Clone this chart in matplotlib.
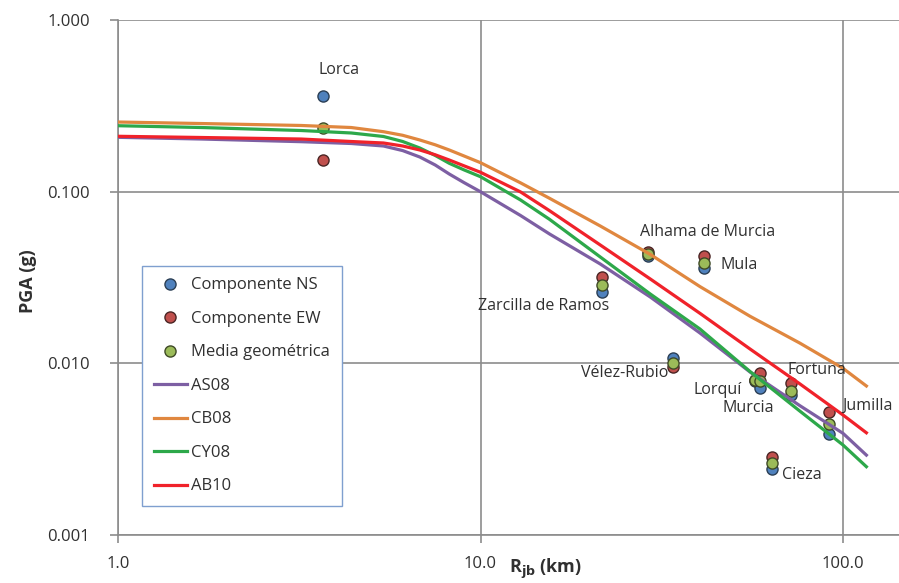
import numpy as np
import matplotlib
matplotlib.use('Agg')
import matplotlib.pyplot as plt
from matplotlib.ticker import FixedLocator, NullLocator, FixedFormatter

plt.rcParams['font.family'] = ['Open Sans', 'DejaVu Sans']

# station records
stations = ['Lorca', 'Zarcilla de Ramos', 'Alhama de Murcia', 'Mula', 'Vélez-Rubio',
            'Lorquí', 'Murcia', 'Fortuna', 'Jumilla', 'Cieza']
r_jb = [3.68, 21.6, 28.9, 41.4, 33.9, 57.2, 59.0, 71.9, 91.7, 63.5]
pga_ns = [0.361, 0.0259, 0.0424, 0.0361, 0.0108, 0.0079, 0.00716, 0.00654, 0.00386, 0.00241]
pga_ew = [0.153, 0.0317, 0.0444, 0.0422, 0.0095, 0.0080, 0.00875, 0.00765, 0.00519, 0.00286]
pga_gm = [0.235, 0.0286, 0.0434, 0.0386, 0.0100, 0.0080, 0.00789, 0.00693, 0.00443, 0.00264]

# GMPE curves
r_model = [1.0, 1.7, 3.2, 4.4, 5.4, 6.1, 6.8, 7.5, 8.2, 9.0, 10.0, 12.9, 15.5, 21.4, 29.4,
           40.3, 55.4, 76.1, 100.0, 116.0]
as08 = [0.2073, 0.2026, 0.1955, 0.1908, 0.1845, 0.1735, 0.1592, 0.1430, 0.1267, 0.1130, 0.0999,
        0.0726, 0.0567, 0.0379, 0.02434, 0.01502, 0.0089, 0.00566, 0.00391, 0.00292]
cb08 = [0.2545, 0.2494, 0.243, 0.2364, 0.2235, 0.2130, 0.2000, 0.1875, 0.1749, 0.1615, 0.1475,
        0.1125, 0.0915, 0.0631, 0.0431, 0.0280, 0.0188, 0.0131, 0.00935, 0.00738]
cy08 = [0.2422, 0.2364, 0.2271, 0.2197, 0.2096, 0.1960, 0.1796, 0.1625, 0.1463, 0.1340, 0.1222,
        0.0894, 0.0690, 0.04163, 0.02534, 0.01585, 0.00896, 0.00526, 0.003344, 0.0025]
ab10 = [0.2102, 0.2068, 0.2026, 0.1960, 0.1921, 0.1845, 0.1749, 0.1640, 0.1529, 0.1415, 0.1297,
        0.0996, 0.0775, 0.0489, 0.0310, 0.01956, 0.01212, 0.00758, 0.0050, 0.00394]

# label offsets in pixels relative to the mean point
label_off = {'Lorca': (16, 58), 'Zarcilla de Ramos': (-58, -21), 'Alhama de Murcia': (60, 22),
             'Mula': (35, -2), 'Vélez-Rubio': (-48, -10), 'Lorquí': (-37, -10),
             'Murcia': (-12, -27), 'Fortuna': (26, 21), 'Jumilla': (38, 18), 'Cieza': (30, -12)}

fig = plt.figure(figsize=(8.99, 5.83), dpi=100)
ax = fig.add_axes([118/899, 48/583, 781/899, 515/583])
ax.set_xscale('log')
ax.set_yscale('log')
ax.set_xlim(1, 142.7)
ax.set_ylim(0.001, 1.0)

txt = '#303030'
grid = '#8c8c8c'

ms = 8
ax.plot(r_jb, pga_ns, 'o', ms=ms, mfc='#4F81BD', mec='#2b3f55', mew=1, label='Componente NS', zorder=3)
ax.plot(r_jb, pga_ew, 'o', ms=ms, mfc='#C0504D', mec='#4a2524', mew=1, label='Componente EW', zorder=3)
ax.plot(r_jb, pga_gm, 'o', ms=ms, mfc='#9BBB59', mec='#3f4a27', mew=1, label='Media geométrica', zorder=3)

lw = 2.3
ax.plot(r_model, as08, color='#7D5FA3', lw=lw, label='AS08', zorder=4)
ax.plot(r_model, cb08, color='#E0873F', lw=lw, label='CB08', zorder=4)
ax.plot(r_model, cy08, color='#2DA84A', lw=lw, label='CY08', zorder=4)
ax.plot(r_model, ab10, color='#F0222A', lw=lw, label='AB10', zorder=4)

for name, x, y in zip(stations, r_jb, pga_gm):
    dx, dy = label_off[name]
    ax.annotate(name, (x, y), xytext=(dx, dy), textcoords='offset pixels',
                ha='center', va='center', fontsize=11.5, color=txt, zorder=5)

for s in ['top', 'right']:
    ax.spines[s].set_visible(False)
for s in ['left', 'bottom']:
    ax.spines[s].set_color(grid)
    ax.spines[s].set_linewidth(1.2)

ax.xaxis.set_major_locator(FixedLocator([1, 10, 100]))
ax.xaxis.set_major_formatter(FixedFormatter(['1.0', '10.0', '100.0']))
ax.xaxis.set_minor_locator(NullLocator())
ax.yaxis.set_major_locator(FixedLocator([0.001, 0.01, 0.1, 1.0]))
ax.yaxis.set_major_formatter(FixedFormatter(['0.001', '0.010', '0.100', '1.000']))
ax.yaxis.set_minor_locator(NullLocator())
ax.tick_params(axis='both', colors=grid, labelcolor=txt, labelsize=12, length=6, width=1.2)
ax.tick_params(axis='x', pad=9)
ax.tick_params(axis='y', pad=14)
ax.grid(True, color=grid, lw=1.2)
ax.set_axisbelow(True)

ax.set_xlabel(r'R$_{\mathbf{jb}}$ (km)', fontsize=13, fontweight='bold', color=txt)
ax.xaxis.set_label_coords(0.547, -0.043)
ax.set_ylabel('PGA (g)', fontsize=13, fontweight='bold', color=txt)
ax.yaxis.set_label_coords(-0.104, 0.493)

leg = ax.legend(loc='lower left', bbox_to_anchor=(0.0307, 0.056), fontsize=12,
                handlelength=2.0, handletextpad=0.25, labelspacing=1.05,
                borderpad=0.7, borderaxespad=0, fancybox=False, framealpha=1)
leg.get_frame().set_edgecolor('#7f9fcf')
leg.get_frame().set_linewidth(1.0)
for t in leg.get_texts():
    t.set_color(txt)

fig.savefig('out.png', dpi=100)
